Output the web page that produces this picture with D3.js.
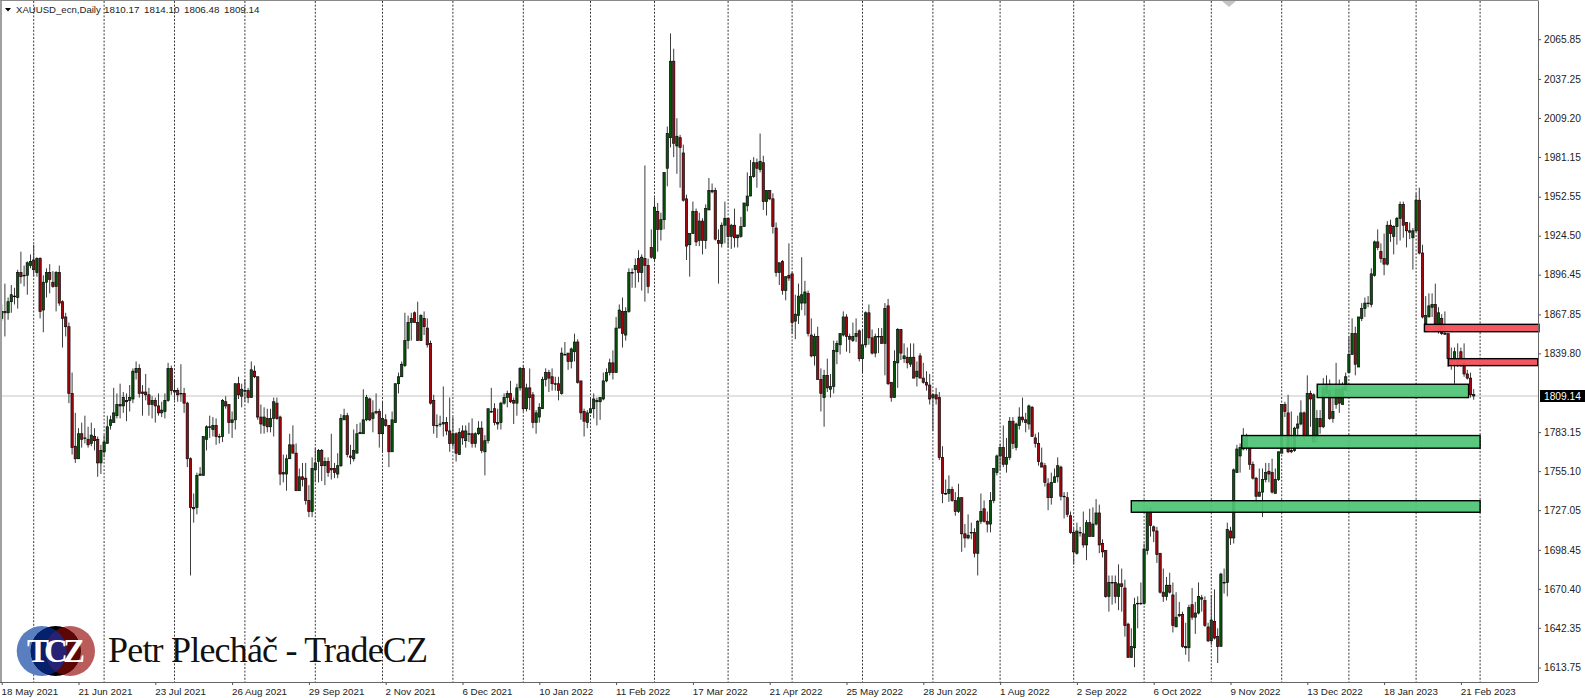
<!DOCTYPE html>
<html><head><meta charset="utf-8">
<script src="https://cdnjs.cloudflare.com/ajax/libs/d3/7.8.5/d3.min.js"></script>
<style>html,body{margin:0;padding:0;background:#fff;overflow:hidden}svg{display:block}
svg{font-family:"Liberation Sans",Arial,sans-serif}</style></head><body>
<script>
const highs=[1875,1890,1880,1889,1887,1900,1913,1903,1906,1911,
1918,1909,1909,1896,1901,1904,1899,1899,1903,1878,
1869,1862,1826,1797,1786,1790,1795,1787,1790,1786,
1780,1774,1781,1795,1795,1815,1811,1818,1812,1811,
1817,1829,1834,1832,1817,1825,1815,1809,1808,1811,
1805,1811,1833,1831,1821,1815,1832,1815,1805,1765,
1739,1754,1758,1780,1788,1795,1794,1793,1782,1807,
1809,1803,1798,1818,1823,1818,1821,1815,1834,1831,
1823,1803,1801,1800,1800,1808,1808,1795,1767,1767,
1782,1788,1775,1757,1761,1761,1745,1765,1772,1771,
1771,1765,1765,1782,1761,1768,1796,1800,1797,1774,
1785,1789,1790,1814,1810,1808,1806,1811,1800,1805,
1796,1788,1798,1818,1826,1834,1869,1867,1869,1870,
1877,1868,1870,1865,1849,1810,1796,1795,1816,1794,
1808,1794,1783,1786,1788,1788,1790,1793,1783,1791,
1791,1781,1800,1815,1804,1800,1805,1811,1813,1820,
1808,1818,1830,1831,1818,1829,1812,1799,1804,1823,
1829,1828,1829,1823,1823,1844,1848,1840,1844,1854,
1850,1820,1800,1799,1808,1811,1808,1808,1826,1829,
1836,1842,1866,1875,1880,1873,1901,1901,1908,1914,
1911,1975,1908,1929,1952,1948,1941,1970,2003,2070,
2059,2009,1997,1990,1954,1926,1949,1944,1941,1937,
1947,1966,1962,1959,1929,1934,1949,1937,1933,1944,
1925,1938,1948,1970,1979,1981,1980,1998,1982,1957,
1957,1955,1934,1905,1907,1895,1919,1898,1882,1890,
1909,1892,1885,1865,1854,1859,1829,1828,1836,1825,
1849,1849,1854,1870,1868,1854,1862,1865,1857,1857,
1870,1875,1857,1854,1858,1858,1876,1879,1819,1842,
1858,1857,1847,1844,1847,1847,1834,1840,1833,1827,
1825,1811,1815,1812,1773,1749,1752,1744,1740,1746,
1736,1717,1724,1718,1714,1720,1739,1734,1726,1740,
1757,1767,1775,1788,1779,1794,1794,1790,1801,1808,
1797,1803,1802,1782,1783,1772,1761,1750,1754,1757,
1765,1759,1740,1740,1726,1714,1718,1715,1726,1720,
1728,1729,1735,1731,1706,1698,1680,1680,1680,1688,
1685,1677,1646,1642,1664,1665,1675,1703,1729,1729,
1716,1715,1696,1685,1679,1682,1675,1668,1661,1654,
1646,1659,1671,1661,1675,1666,1665,1646,1666,1670,
1642,1682,1685,1718,1715,1757,1774,1775,1786,1782,
1773,1762,1751,1757,1757,1761,1761,1764,1757,1769,
1803,1805,1810,1798,1787,1795,1806,1798,1824,1813,
1811,1799,1799,1822,1824,1821,1815,1833,1821,1819,
1826,1852,1865,1859,1866,1876,1880,1881,1901,1921,
1929,1919,1926,1935,1936,1932,1938,1949,1949,1934,
1934,1930,1955,1959,1918,1881,1883,1883,1890,1873,
1868,1870,1854,1844,1844,1847,1844,1847,1828,1826,
1814.10];
const lows=[1863,1852,1864,1869,1875,1872,1890,1888,1882,1901,
1895,1895,1865,1855,1880,1883,1887,1870,1874,1844,
1852,1804,1767,1761,1764,1772,1775,1772,1773,1770,
1751,1753,1765,1775,1785,1790,1793,1793,1797,1791,
1798,1804,1821,1808,1795,1806,1795,1793,1790,1795,
1794,1793,1805,1810,1806,1805,1805,1797,1758,1680,
1718,1724,1752,1752,1770,1779,1780,1774,1775,1776,
1800,1782,1779,1785,1807,1801,1805,1804,1808,1822,
1792,1782,1782,1783,1783,1780,1792,1745,1747,1741,
1764,1768,1741,1741,1744,1731,1722,1722,1747,1747,
1748,1745,1751,1749,1750,1750,1758,1792,1765,1760,
1762,1768,1782,1782,1791,1791,1783,1796,1772,1769,
1787,1758,1769,1790,1811,1823,1830,1843,1849,1862,
1849,1849,1853,1844,1803,1782,1779,1787,1780,1781,
1769,1772,1762,1767,1774,1772,1776,1772,1772,1781,
1768,1752,1775,1797,1788,1785,1785,1803,1801,1804,
1789,1795,1813,1798,1798,1799,1786,1782,1790,1800,
1816,1812,1813,1813,1806,1810,1839,1828,1829,1834,
1818,1792,1780,1786,1797,1793,1788,1792,1806,1819,
1824,1821,1826,1858,1844,1849,1869,1887,1887,1891,
1885,1877,1883,1908,1906,1913,1921,1929,1960,1988,
1981,1969,1959,1949,1907,1895,1926,1917,1917,1911,
1915,1943,1955,1921,1890,1916,1919,1916,1915,1916,
1916,1923,1931,1942,1953,1966,1959,1970,1943,1939,
1950,1926,1895,1889,1882,1878,1892,1854,1850,1861,
1871,1867,1852,1837,1831,1821,1798,1787,1812,1808,
1811,1832,1839,1852,1841,1840,1848,1848,1834,1826,
1844,1846,1839,1837,1840,1847,1824,1817,1805,1808,
1815,1835,1833,1829,1830,1822,1816,1822,1818,1813,
1803,1784,1803,1763,1732,1738,1733,1733,1723,1725,
1697,1700,1706,1706,1693,1680,1717,1718,1711,1711,
1732,1752,1756,1758,1754,1763,1771,1770,1785,1790,
1783,1785,1780,1772,1759,1758,1744,1727,1731,1747,
1747,1734,1721,1722,1710,1688,1695,1708,1700,1691,
1708,1708,1716,1696,1693,1664,1654,1659,1660,1655,
1654,1636,1621,1621,1614,1642,1659,1659,1695,1708,
1704,1689,1667,1661,1662,1667,1639,1643,1650,1628,
1623,1618,1648,1638,1652,1654,1643,1632,1630,1634,
1617,1629,1667,1665,1702,1703,1754,1754,1770,1770,
1756,1749,1732,1737,1722,1747,1747,1739,1739,1748,
1768,1794,1768,1768,1769,1780,1788,1777,1780,1787,
1776,1775,1782,1786,1808,1792,1790,1800,1797,1803,
1813,1826,1839,1824,1830,1863,1866,1873,1873,1895,
1914,1905,1896,1903,1920,1911,1918,1921,1923,1916,
1922,1900,1927,1911,1865,1860,1866,1866,1859,1854,
1853,1853,1830,1828,1818,1830,1830,1823,1821,1808,
1806.48];
const opens=[1865,1870,1869,1877,1881,1880,1898,1896,1896,1903,
1907,1898,1908,1871,1891,1898,1891,1888,1898,1877,
1866,1859,1811,1773,1764,1782,1779,1778,1775,1780,
1778,1761,1769,1775,1788,1790,1795,1803,1802,1806,
1806,1807,1826,1829,1812,1812,1810,1803,1806,1802,
1797,1798,1806,1829,1813,1813,1811,1811,1804,1764,
1729,1729,1752,1752,1778,1787,1785,1788,1780,1780,
1805,1803,1790,1792,1818,1809,1813,1813,1808,1827,
1823,1794,1788,1793,1787,1793,1804,1794,1754,1753,
1764,1774,1768,1741,1751,1750,1734,1726,1756,1762,
1770,1759,1762,1757,1757,1753,1759,1792,1795,1766,
1764,1768,1782,1782,1792,1807,1793,1798,1798,1782,
1792,1788,1769,1790,1818,1823,1831,1849,1862,1869,
1862,1849,1865,1858,1847,1806,1788,1789,1789,1790,
1784,1775,1782,1767,1784,1777,1782,1782,1775,1782,
1786,1769,1777,1798,1800,1789,1790,1804,1808,1811,
1806,1804,1815,1829,1800,1815,1810,1790,1794,1800,
1821,1826,1823,1818,1818,1811,1839,1840,1834,1841,
1848,1820,1798,1790,1797,1800,1806,1805,1807,1820,
1826,1833,1826,1858,1870,1853,1870,1898,1900,1908,
1898,1908,1903,1916,1908,1942,1929,1936,1973,1995,
2050,1989,1995,1984,1951,1918,1926,1942,1921,1935,
1921,1943,1957,1957,1921,1919,1932,1937,1924,1932,
1923,1924,1931,1946,1953,1967,1977,1972,1977,1949,
1957,1951,1930,1898,1906,1885,1896,1897,1863,1867,
1876,1876,1883,1853,1838,1852,1821,1808,1824,1814,
1816,1841,1846,1853,1866,1852,1849,1852,1856,1836,
1846,1869,1851,1840,1852,1852,1847,1874,1819,1808,
1833,1857,1836,1837,1832,1837,1823,1838,1822,1819,
1817,1808,1810,1808,1765,1739,1739,1742,1734,1726,
1736,1710,1707,1711,1711,1696,1719,1728,1719,1717,
1734,1754,1766,1772,1760,1765,1791,1772,1788,1794,
1792,1789,1801,1779,1775,1761,1759,1746,1736,1747,
1751,1758,1737,1736,1723,1711,1696,1711,1710,1702,
1718,1708,1717,1725,1703,1698,1665,1675,1675,1665,
1674,1671,1645,1621,1628,1660,1660,1660,1698,1726,
1715,1712,1696,1668,1665,1673,1666,1643,1652,1652,
1629,1628,1659,1650,1653,1664,1662,1643,1633,1647,
1636,1629,1675,1675,1712,1707,1754,1766,1771,1772,
1772,1760,1750,1737,1740,1749,1755,1754,1739,1749,
1768,1803,1797,1770,1770,1786,1789,1797,1780,1811,
1776,1780,1793,1787,1811,1813,1793,1803,1814,1803,
1813,1826,1839,1854,1830,1865,1872,1876,1875,1896,
1920,1913,1908,1904,1932,1924,1931,1937,1947,1934,
1928,1923,1928,1950,1912,1861,1866,1873,1875,1860,
1865,1854,1854,1835,1836,1836,1841,1833,1825,1822,
1810.17];
const closes=[1870,1869,1877,1882,1881,1898,1895,1896,1905,1906,
1900,1908,1870,1891,1898,1893,1888,1898,1876,1865,
1859,1811,1772,1764,1782,1778,1779,1774,1781,1777,
1761,1770,1776,1787,1792,1797,1803,1802,1808,1805,
1808,1827,1829,1811,1811,1810,1803,1806,1802,1797,
1799,1806,1829,1813,1812,1810,1811,1804,1764,1729,
1728,1752,1753,1780,1787,1787,1788,1780,1780,1806,
1802,1790,1792,1818,1810,1814,1813,1808,1828,1823,
1794,1789,1794,1787,1793,1805,1793,1753,1753,1764,
1774,1768,1741,1751,1749,1734,1726,1757,1761,1770,
1759,1762,1754,1756,1754,1759,1793,1795,1767,1765,
1770,1782,1783,1792,1808,1792,1797,1797,1782,1793,
1788,1769,1792,1818,1823,1832,1849,1862,1865,1862,
1849,1867,1859,1846,1804,1788,1788,1789,1790,1784,
1775,1782,1768,1783,1779,1784,1782,1775,1782,1786,
1770,1777,1800,1798,1790,1790,1804,1808,1811,1805,
1804,1815,1829,1800,1815,1808,1790,1797,1801,1821,
1826,1822,1818,1818,1813,1840,1839,1834,1843,1848,
1819,1797,1791,1797,1800,1807,1805,1808,1820,1826,
1833,1826,1858,1871,1854,1870,1898,1898,1903,1898,
1909,1903,1888,1909,1945,1929,1936,1970,1998,2050,
1991,1996,1988,1950,1917,1926,1942,1920,1935,1921,
1944,1957,1956,1922,1919,1932,1937,1924,1932,1923,
1925,1931,1948,1953,1967,1977,1973,1978,1949,1957,
1951,1931,1898,1905,1885,1895,1894,1862,1868,1881,
1882,1884,1854,1838,1852,1821,1811,1824,1815,1816,
1842,1847,1854,1866,1852,1850,1852,1854,1836,1846,
1869,1851,1840,1852,1852,1847,1872,1818,1808,1834,
1857,1840,1838,1833,1837,1822,1827,1822,1819,1817,
1807,1810,1807,1765,1739,1739,1742,1734,1726,1736,
1710,1707,1709,1711,1696,1719,1726,1719,1717,1734,
1757,1766,1772,1760,1765,1791,1775,1789,1794,1792,
1790,1802,1780,1775,1762,1758,1747,1736,1747,1751,
1759,1737,1737,1724,1711,1697,1712,1711,1702,1718,
1708,1717,1725,1702,1697,1665,1675,1675,1665,1674,
1672,1644,1621,1629,1659,1660,1660,1699,1725,1716,
1712,1695,1668,1665,1673,1668,1644,1650,1651,1629,
1628,1657,1650,1653,1665,1663,1644,1633,1648,1635,
1629,1681,1675,1713,1707,1756,1771,1772,1779,1780,
1760,1750,1737,1740,1749,1754,1753,1740,1749,1769,
1803,1798,1769,1769,1786,1789,1797,1780,1811,1807,
1810,1793,1787,1815,1817,1793,1798,1814,1804,1815,
1823,1839,1854,1832,1866,1872,1876,1876,1897,1920,
1916,1908,1904,1932,1926,1931,1937,1947,1932,1928,
1927,1928,1950,1912,1866,1867,1874,1875,1861,1869,
1854,1854,1836,1833,1841,1833,1835,1825,1822,1810,
1809.14];

const tickLabels=["18 May 2021","21 Jun 2021","23 Jul 2021","26 Aug 2021","29 Sep 2021","2 Nov 2021","6 Dec 2021","10 Jan 2022","11 Feb 2022","17 Mar 2022","21 Apr 2022","25 May 2022","28 Jun 2022","1 Aug 2022","2 Sep 2022","6 Oct 2022","9 Nov 2022","13 Dec 2022","18 Jan 2023","21 Feb 2023"];
const barsPerLabel=24;
const priceTicks=[2065.85,2037.25,2009.20,1981.15,1952.55,1924.50,1896.45,1867.85,1839.80,1783.15,1755.10,1727.05,1698.45,1670.40,1642.35,1613.75];
const lastPrice=1809.14;
const separators=[10,32,54,76,98,119,141,163,184,204,227,247,269,291,312,335,357,378,400,421,442,462];
const zoneKinds=["g","g","g","r","r"];
const zoneFrom=[353,387.5,411.1,444.6,452.1];
const zoneTo=[462,462,458.4,480.4,480];
const zoneHigh=[1733.8,1780.7,1817.6,1860.7,1836];
const zoneLow=[1725.5,1771.6,1808,1855.4,1831];

const W=1585,H=698,axisX=1538,axisY=682;
const x=d3.scaleLinear().domain([0,480]).range([1.7,1.7+3.2*480]);
const y=d3.scaleLinear().domain([1809.14,2065.85]).range([396,39.2]);
const svg=d3.select("body").append("svg").attr("width",W).attr("height",H);

// month separators
svg.append("g").selectAll("line").data(separators).join("line")
 .attr("x1",d=>x(d)).attr("x2",d=>x(d)).attr("y1",1).attr("y2",axisY)
 .attr("stroke","#3a3a3a").attr("stroke-width",1).attr("stroke-dasharray","2 1.6");

// last price line
svg.append("line").attr("x1",2).attr("x2",axisX).attr("y1",y(lastPrice)).attr("y2",y(lastPrice))
 .attr("stroke","#d9d9d9").attr("stroke-width",1.4);

// candles
const idx=d3.range(closes.length);
const candles=svg.append("g").selectAll("g").data(idx).join("g");
candles.append("line").attr("x1",i=>x(i)).attr("x2",i=>x(i))
 .attr("y1",i=>y(highs[i])).attr("y2",i=>y(lows[i]))
 .attr("stroke","#3c3c3c").attr("stroke-width",1);
candles.append("rect").attr("x",i=>x(i)-1.15).attr("width",2.3)
 .attr("y",i=>y(Math.max(opens[i],closes[i])))
 .attr("height",i=>Math.max(0.6,Math.abs(y(opens[i])-y(closes[i]))))
 .attr("fill",i=>closes[i]>=opens[i]?"#06560a":"#a4060e")
 .attr("stroke","#0a0a0a").attr("stroke-width",0.7);

// zones
const zi=d3.range(zoneKinds.length);
svg.append("g").selectAll("rect").data(zi).join("rect")
 .attr("x",i=>x(zoneFrom[i])).attr("width",i=>x(zoneTo[i])-x(zoneFrom[i]))
 .attr("y",i=>y(zoneHigh[i])).attr("height",i=>y(zoneLow[i])-y(zoneHigh[i]))
 .attr("fill",i=>zoneKinds[i]==="g"?"rgba(78,196,116,0.93)":"rgba(244,82,92,0.97)")
 .attr("stroke","#000").attr("stroke-width",1.4);

// frame
svg.append("rect").attr("x",0).attr("y",0).attr("width",2).attr("height",axisY).attr("fill","#a0a0a0");
svg.append("line").attr("x1",0).attr("x2",axisX).attr("y1",0.5).attr("y2",0.5).attr("stroke","#8a8a8a");
svg.append("path").attr("d","M1222,1 L1236,1 L1229,7 Z").attr("fill","#c4c4c4");

// price axis
const ay=d3.axisRight(y).tickValues(priceTicks).tickFormat(d3.format(".2f")).tickSize(3).tickPadding(3);
const gy=svg.append("g").attr("transform",`translate(${axisX},0)`).call(ay);
gy.select(".domain").attr("d",`M0.5,0.5V${axisY}`).attr("stroke","#666");
gy.selectAll(".tick line").attr("stroke","#555");
gy.selectAll("text").style("font-family","'Liberation Sans'").style("font-size","10.2px").attr("fill","#222");

// date axis
const labelIdx=tickLabels.map((_,k)=>k*barsPerLabel);
const ax=d3.axisBottom(x).tickValues(labelIdx).tickFormat(d=>tickLabels[d/barsPerLabel]).tickSize(3).tickPadding(1);
const gx=svg.append("g").attr("transform",`translate(0,${axisY})`).call(ax);
gx.select(".domain").attr("d",`M0,0.5H${axisX}`).attr("stroke","#666");
gx.selectAll(".tick line").attr("stroke","#555");
gx.selectAll("text").attr("text-anchor","start").style("font-family","'Liberation Sans'").style("font-size","9.8px").attr("fill","#222").attr("dx","-0.6").attr("dy","0.95em");

// last price tag
svg.append("rect").attr("x",1540).attr("y",y(lastPrice)-6).attr("width",45).attr("height",12).attr("fill","#000");
svg.append("text").attr("x",1544).attr("y",y(lastPrice)+3.7).attr("fill","#fff").style("font-size","10.2px").text(lastPrice.toFixed(2));

// header
svg.append("path").attr("d","M5,8 L11,8 L8,11.5 Z").attr("fill","#000");
svg.append("text").attr("x",16).attr("y",13).style("font-size","9.6px").attr("fill","#222").text("XAUUSD_ecn,Daily");
[opens,highs,lows,closes].forEach((a,k)=>{
 svg.append("text").attr("x",104+k*40).attr("y",13).style("font-size","9.8px").attr("fill","#222").text(a[a.length-1].toFixed(2));
});

// logo
const defs=svg.append("defs");
const cx=[41.7,55.7,70],cy=651,r=25;
["L","C","R"].forEach((n,k)=>defs.append("clipPath").attr("id","clip"+n).append("circle").attr("cx",cx[k]).attr("cy",cy).attr("r",r));
const logo=svg.append("g");
const circ=(k,fill)=>logo.append("circle").attr("cx",cx[k]).attr("cy",cy).attr("r",r).attr("fill",fill);
circ(0,"#5a7fc0");circ(2,"#b95c5c");circ(1,"#000");
const gL=logo.append("g").attr("clip-path","url(#clipC)");
gL.append("circle").attr("cx",cx[0]).attr("cy",cy).attr("r",r).attr("fill","#05206c");
gL.append("circle").attr("cx",cx[2]).attr("cy",cy).attr("r",r).attr("fill","#5c0606");
gL.append("g").attr("clip-path","url(#clipL)").append("circle").attr("cx",cx[2]).attr("cy",cy).attr("r",r).attr("fill","#262375");
logo.append("text").attr("x",56).attr("y",662).attr("text-anchor","middle").attr("fill","#fff")
 .style("font-family","'Liberation Serif',serif").style("font-weight","bold").style("font-size","33px").attr("textLength",58).text("TCZ");
svg.append("text").attr("x",108).attr("y",662).style("font-family","'Liberation Serif',serif").style("font-size","36px").attr("fill","#111")
 .attr("textLength",320).text("Petr Plecháč - TradeCZ");
</script></body></html>
